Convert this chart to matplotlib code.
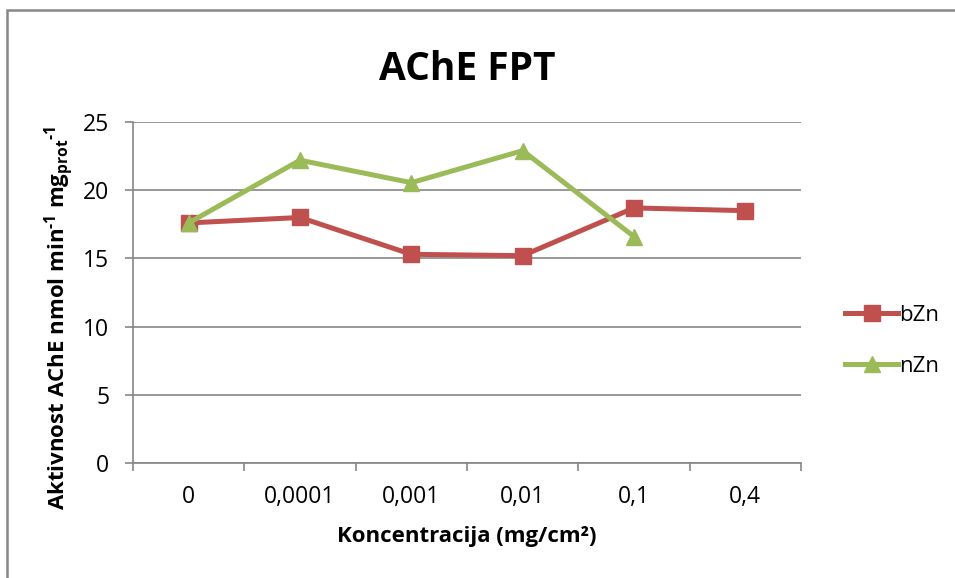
import matplotlib
matplotlib.use("Agg")
import matplotlib.pyplot as plt
from matplotlib.patches import Rectangle

plt.rcParams['font.family'] = ['Open Sans', 'DejaVu Sans']
plt.rcParams['mathtext.fontset'] = 'custom'
plt.rcParams['mathtext.rm'] = 'Open Sans:bold'
plt.rcParams['mathtext.bf'] = 'Open Sans:bold'
plt.rcParams['mathtext.it'] = 'Open Sans:bold'
plt.rcParams['mathtext.default'] = 'bf'

categories = ["0", "0,0001", "0,001", "0,01", "0,1", "0,4"]
bZn = [17.6, 18.0, 15.3, 15.2, 18.7, 18.5]
nZn = [17.6, 22.2, 20.55, 22.9, 16.6]
yticks = [0, 5, 10, 15, 20, 25]

red = "#C0504D"
green = "#9BBB59"
grid_c = "#868686"

fig = plt.figure(figsize=(9.55, 5.78), dpi=100)
ax = fig.add_axes([133/955, 1-463/578, (801-133)/955, (463-122)/578])

x_b = list(range(len(bZn)))
x_n = list(range(len(nZn)))
l1, = ax.plot(x_b, bZn, color=red, lw=3.6, marker='s', markersize=11,
              markeredgecolor=red, label='bZn', zorder=3)
l2, = ax.plot(x_n, nZn, color=green, lw=3.6, marker='^', markersize=12,
              markeredgecolor=green, label='nZn', zorder=4)

ax.set_xlim(-0.5, len(categories) - 0.5)
ax.set_ylim(0, 25)
ax.set_yticks(yticks)
ax.set_yticklabels([str(v) for v in yticks], fontsize=16.5)
ax.set_xticks(range(len(categories)))
ax.set_xticklabels(categories, fontsize=16.5)
ax.tick_params(axis='x', length=0, pad=16)
ax.set_xticks([i - 0.5 for i in range(len(categories) + 1)], minor=True)
ax.tick_params(axis='x', which='minor', length=6, color=grid_c, width=1.2, direction='out')
ax.tick_params(axis='y', length=6, color=grid_c, width=1.2, direction='out', pad=11)

ax.grid(axis='y', color=grid_c, lw=1.2)
ax.set_axisbelow(True)
for s in ['top', 'right']:
    ax.spines[s].set_visible(False)
for s in ['left', 'bottom']:
    ax.spines[s].set_color(grid_c)
    ax.spines[s].set_linewidth(1.2)

ax.set_title("AChE FPT", fontsize=28, fontweight='bold', pad=30)
ax.set_xlabel("Koncentracija (mg/cm²)", fontsize=16, fontweight='bold', labelpad=12)
ax.set_ylabel(r"Aktivnost AChE nmol min$^{\text{-}1}$ mg$_{prot}$$^{\text{-}1}$", fontsize=16,
              fontweight='bold')
ax.yaxis.set_label_coords(-0.086, (463 - 318) / (463 - 122))

fig.legend(handles=[l1, l2], loc='center left', bbox_to_anchor=(834/955, 1-341/578),
           frameon=False, fontsize=16, handlelength=2.4, labelspacing=1.35,
           handletextpad=0.05, borderpad=0)

fig.patches.append(Rectangle((7/955, -0.1), 1.2, 1.1 - 10/578, transform=fig.transFigure,
                             fill=False, edgecolor=grid_c, lw=1.8))

fig.savefig("out.png", dpi=100)
